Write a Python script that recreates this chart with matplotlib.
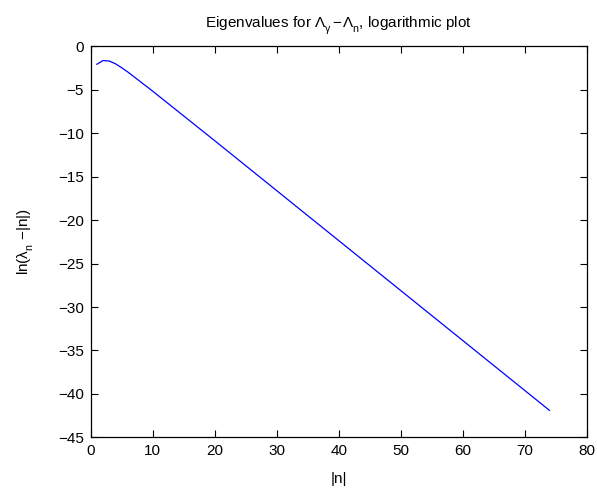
import matplotlib
matplotlib.use('Agg')
import matplotlib.pyplot as plt

# values
n_vals = [1, 2, 3, 4, 5, 6, 7, 8, 10, 15, 20, 30, 40, 50, 60, 70, 74]
log_gap = [-2.05, -1.62, -1.68, -2.0, -2.45, -2.95, -3.5, -4.05, -5.15,
           -8.0, -10.85, -16.6, -22.35, -28.1, -33.85, -39.6, -41.9]

x_ticks = [0, 10, 20, 30, 40, 50, 60, 70, 80]
y_ticks = [0, -5, -10, -15, -20, -25, -30, -35, -40, -45]

plt.rcParams['font.family'] = ['Liberation Sans', 'DejaVu Sans']
plt.rcParams['mathtext.fontset'] = 'custom'
plt.rcParams['mathtext.rm'] = 'Liberation Sans'
plt.rcParams['mathtext.it'] = 'Liberation Sans'
plt.rcParams['mathtext.default'] = 'rm'

# MATLAB drops its subscripts lower than mathtext does
try:
    from matplotlib import _mathtext
    _mathtext.FontConstantsBase.sub1 = 0.7
    _mathtext.FontConstantsBase.sub2 = 0.8
except Exception:
    pass

fig = plt.figure(figsize=(5.97, 4.94), dpi=100)
ax = fig.add_axes([0.1519, 0.1147, 0.8309, 0.7913])

ax.plot(n_vals, log_gap, color='blue', linewidth=0.9)

ax.set_xlim(0, 80)
ax.set_ylim(-45, 0)
ax.set_xticks(x_ticks)
ax.set_yticks(y_ticks)
ax.set_yticklabels([str(t).replace('-', '\u2212') for t in y_ticks])
ax.tick_params(direction='in', length=5, width=0.8, labelsize=11,
               top=True, right=True, pad=5)
for s in ax.spines.values():
    s.set_linewidth(0.9)

ax.set_title(r'Eigenvalues for $\Lambda_{\gamma}\,\!-\!\Lambda_{n}$, logarithmic plot',
             fontsize=11, pad=14)
ax.set_xlabel('|n|', fontsize=11, labelpad=10)
ax.set_ylabel(r'ln($\lambda_{n}$ $-$|n|)', fontsize=11, labelpad=16)

fig.savefig('out.png', dpi=100)
